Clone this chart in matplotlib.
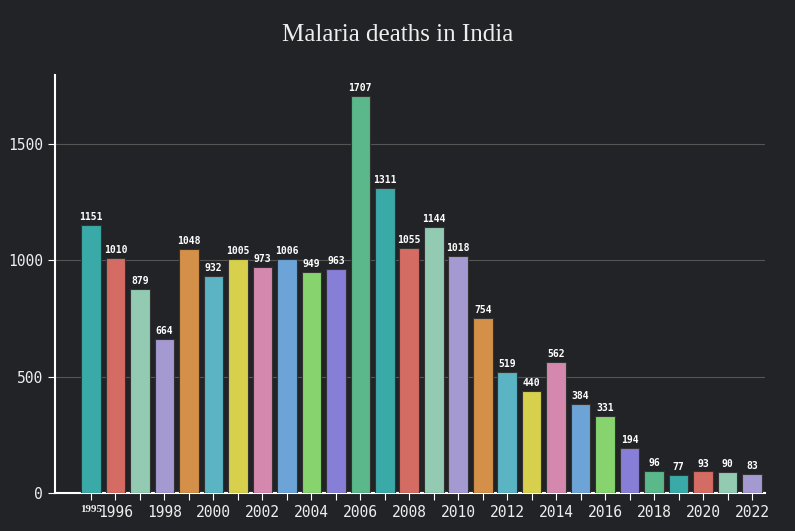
import matplotlib
matplotlib.use("Agg")
import matplotlib.pyplot as plt

years = list(range(1995, 2023))
deaths = [1151, 1010, 879, 664, 1048, 932, 1005, 973, 1006, 949, 963, 1707, 1311, 1055,
          1144, 1018, 754, 519, 440, 562, 384, 331, 194, 96, 77, 93, 90, 83]
palette = ["#3aaaa9", "#d56c63", "#92cbb2", "#a599d1", "#d48f48", "#5ab4c3",
           "#d7d04c", "#d588ad", "#6da4d7", "#87d46f", "#877ed7", "#5ab88a"]
colors = [palette[i % 12] for i in range(len(years))]

bg = "#222327"
fig = plt.figure(figsize=(7.95, 5.31), dpi=100, facecolor=bg)
ax = fig.add_axes([55/795, 38/531, 710/795, 418/531], facecolor=bg)
bars = ax.bar(years, deaths, width=0.8, color=colors, edgecolor="#333333", linewidth=0.8, zorder=3)
for x, v in zip(years, deaths):
    ax.text(x, v + 12, str(v), ha="center", va="bottom", color="white", fontsize=7,
            family="DejaVu Sans Mono", fontweight="bold", zorder=4)
ax.set_xlim(1993.53, 2022.53)
ax.set_ylim(0, 1797)
ax.set_yticks([0, 500, 1000, 1500])
ax.grid(axis="y", color="#555555", linewidth=0.8, zorder=0)
for s in ["top", "right"]:
    ax.spines[s].set_visible(False)
for s in ["left", "bottom"]:
    ax.spines[s].set_color("white")
    ax.spines[s].set_linewidth(1.5)
ax.set_xticks(years)
ax.set_xticklabels([str(y) if (y % 2 == 0 or y == 1995) else "" for y in years])
ax.tick_params(colors="white", labelsize=10.5, length=5)
for lbl in ax.get_xticklabels() + ax.get_yticklabels():
    lbl.set_family("DejaVu Sans Mono")
    lbl.set_color("#eeeeee")
l0 = ax.get_xticklabels()[0]
l0.set_family("Liberation Serif"); l0.set_fontsize(8); l0.set_fontweight("bold")
fig.text(0.5, 0.935, "Malaria deaths in India", ha="center", va="center", color="#eeeeee",
         fontsize=18, family="Liberation Serif")
fig.savefig("out.png", dpi=100, facecolor=bg)
